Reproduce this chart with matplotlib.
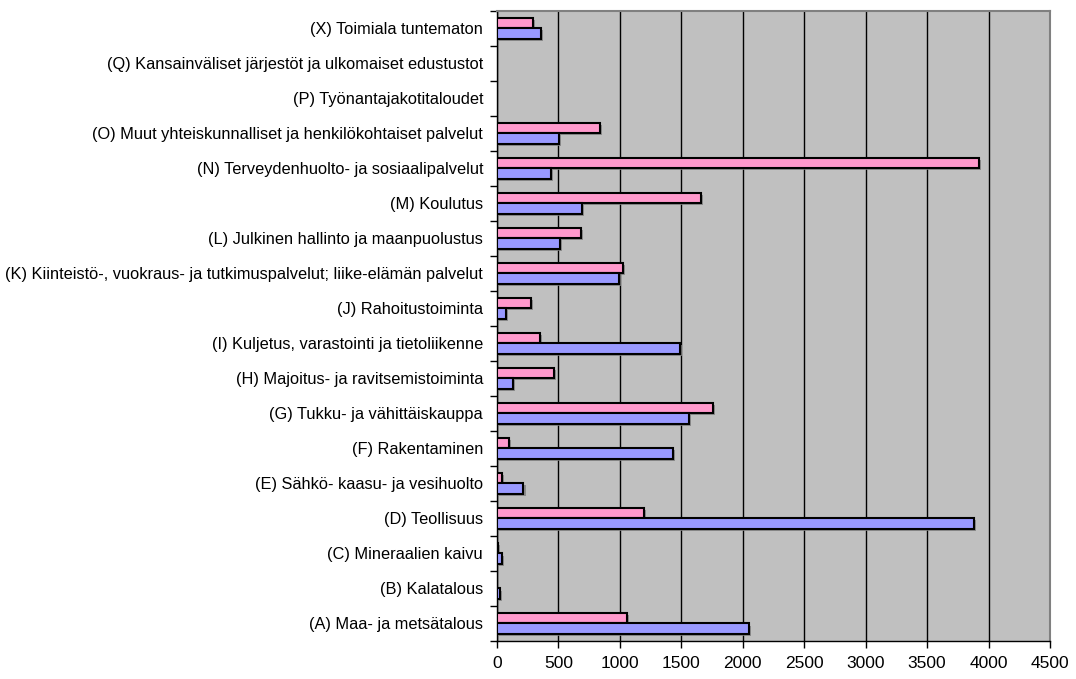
import matplotlib
matplotlib.use("Agg")
import matplotlib.pyplot as plt
import matplotlib.patheffects as pe
import numpy as np

# toimialat, alhaalta ylos
categories = [
    "(A) Maa- ja metsätalous",
    "(B) Kalatalous",
    "(C) Mineraalien kaivu",
    "(D) Teollisuus",
    "(E) Sähkö- kaasu- ja vesihuolto",
    "(F) Rakentaminen",
    "(G) Tukku- ja vähittäiskauppa",
    "(H) Majoitus- ja ravitsemistoiminta",
    "(I) Kuljetus, varastointi ja tietoliikenne",
    "(J) Rahoitustoiminta",
    "(K) Kiinteistö-, vuokraus- ja tutkimuspalvelut; liike-elämän palvelut",
    "(L) Julkinen hallinto ja maanpuolustus",
    "(M) Koulutus",
    "(N) Terveydenhuolto- ja sosiaalipalvelut",
    "(O) Muut yhteiskunnalliset ja henkilökohtaiset palvelut",
    "(P) Työnantajakotitaloudet",
    "(Q) Kansainväliset järjestöt ja ulkomaiset edustustot",
    "(X) Toimiala tuntematon",
]

pink_vals = [1054, 0, 6, 1196, 38, 99, 1756, 465, 352, 279, 1025, 685, 1661, 3925, 836, 0, 0, 296]
blue_vals = [2047, 21, 38, 3878, 215, 1431, 1562, 131, 1492, 76, 990, 511, 694, 436, 503, 0, 0, 357]

xticks = [0, 500, 1000, 1500, 2000, 2500, 3000, 3500, 4000, 4500]

plt.rcParams['font.family'] = ['Liberation Sans', 'DejaVu Sans']

fig = plt.figure(figsize=(10.76, 6.79), dpi=100)
ax = fig.add_axes([497/1076, 1-641/679, (1050-497)/1076, (641-10.5)/679])
ax.set_facecolor("#C0C0C0")

y = np.arange(len(categories))
h = 0.3
shadow = [pe.SimplePatchShadow(offset=(1.5, -1.5), shadow_rgbFace="#808080", alpha=0.8), pe.Normal()]
b1 = ax.barh(y + h/2, pink_vals, height=h, color="#FF99CC", edgecolor="black", linewidth=1.5, zorder=3)
b2 = ax.barh(y - h/2, blue_vals, height=h, color="#9999FF", edgecolor="black", linewidth=1.5, zorder=3)
for bar in list(b1) + list(b2):
  if bar.get_width() > 0:
    bar.set_path_effects(shadow)
  else:
    bar.set_visible(False)

ax.set_xlim(0, 4500)
ax.set_ylim(-0.5, len(categories) - 0.5)
ax.set_xticks(xticks)
ax.set_xticklabels([str(t) for t in xticks], fontsize=12.5)
ax.xaxis.grid(True, color="black", linewidth=1.0, zorder=1)
ax.set_axisbelow(True)

# category labels in the middle, tick marks at boundaries
ax.set_yticks(y)
ax.set_yticklabels(categories, fontsize=11.8)
ax.tick_params(axis="y", which="major", length=0, pad=10)
ax.set_yticks(np.arange(-0.5, len(categories)), minor=True)
ax.tick_params(axis="y", which="minor", length=5, width=1, direction="out")
ax.tick_params(axis="x", length=5, width=1, direction="out", pad=6)

for s in ["top", "right"]:
  ax.spines[s].set_color("#808080")
  ax.spines[s].set_linewidth(1.5)
for s in ["left", "bottom"]:
  ax.spines[s].set_color("black")
  ax.spines[s].set_linewidth(1.0)

fig.savefig("out.png", dpi=100)
